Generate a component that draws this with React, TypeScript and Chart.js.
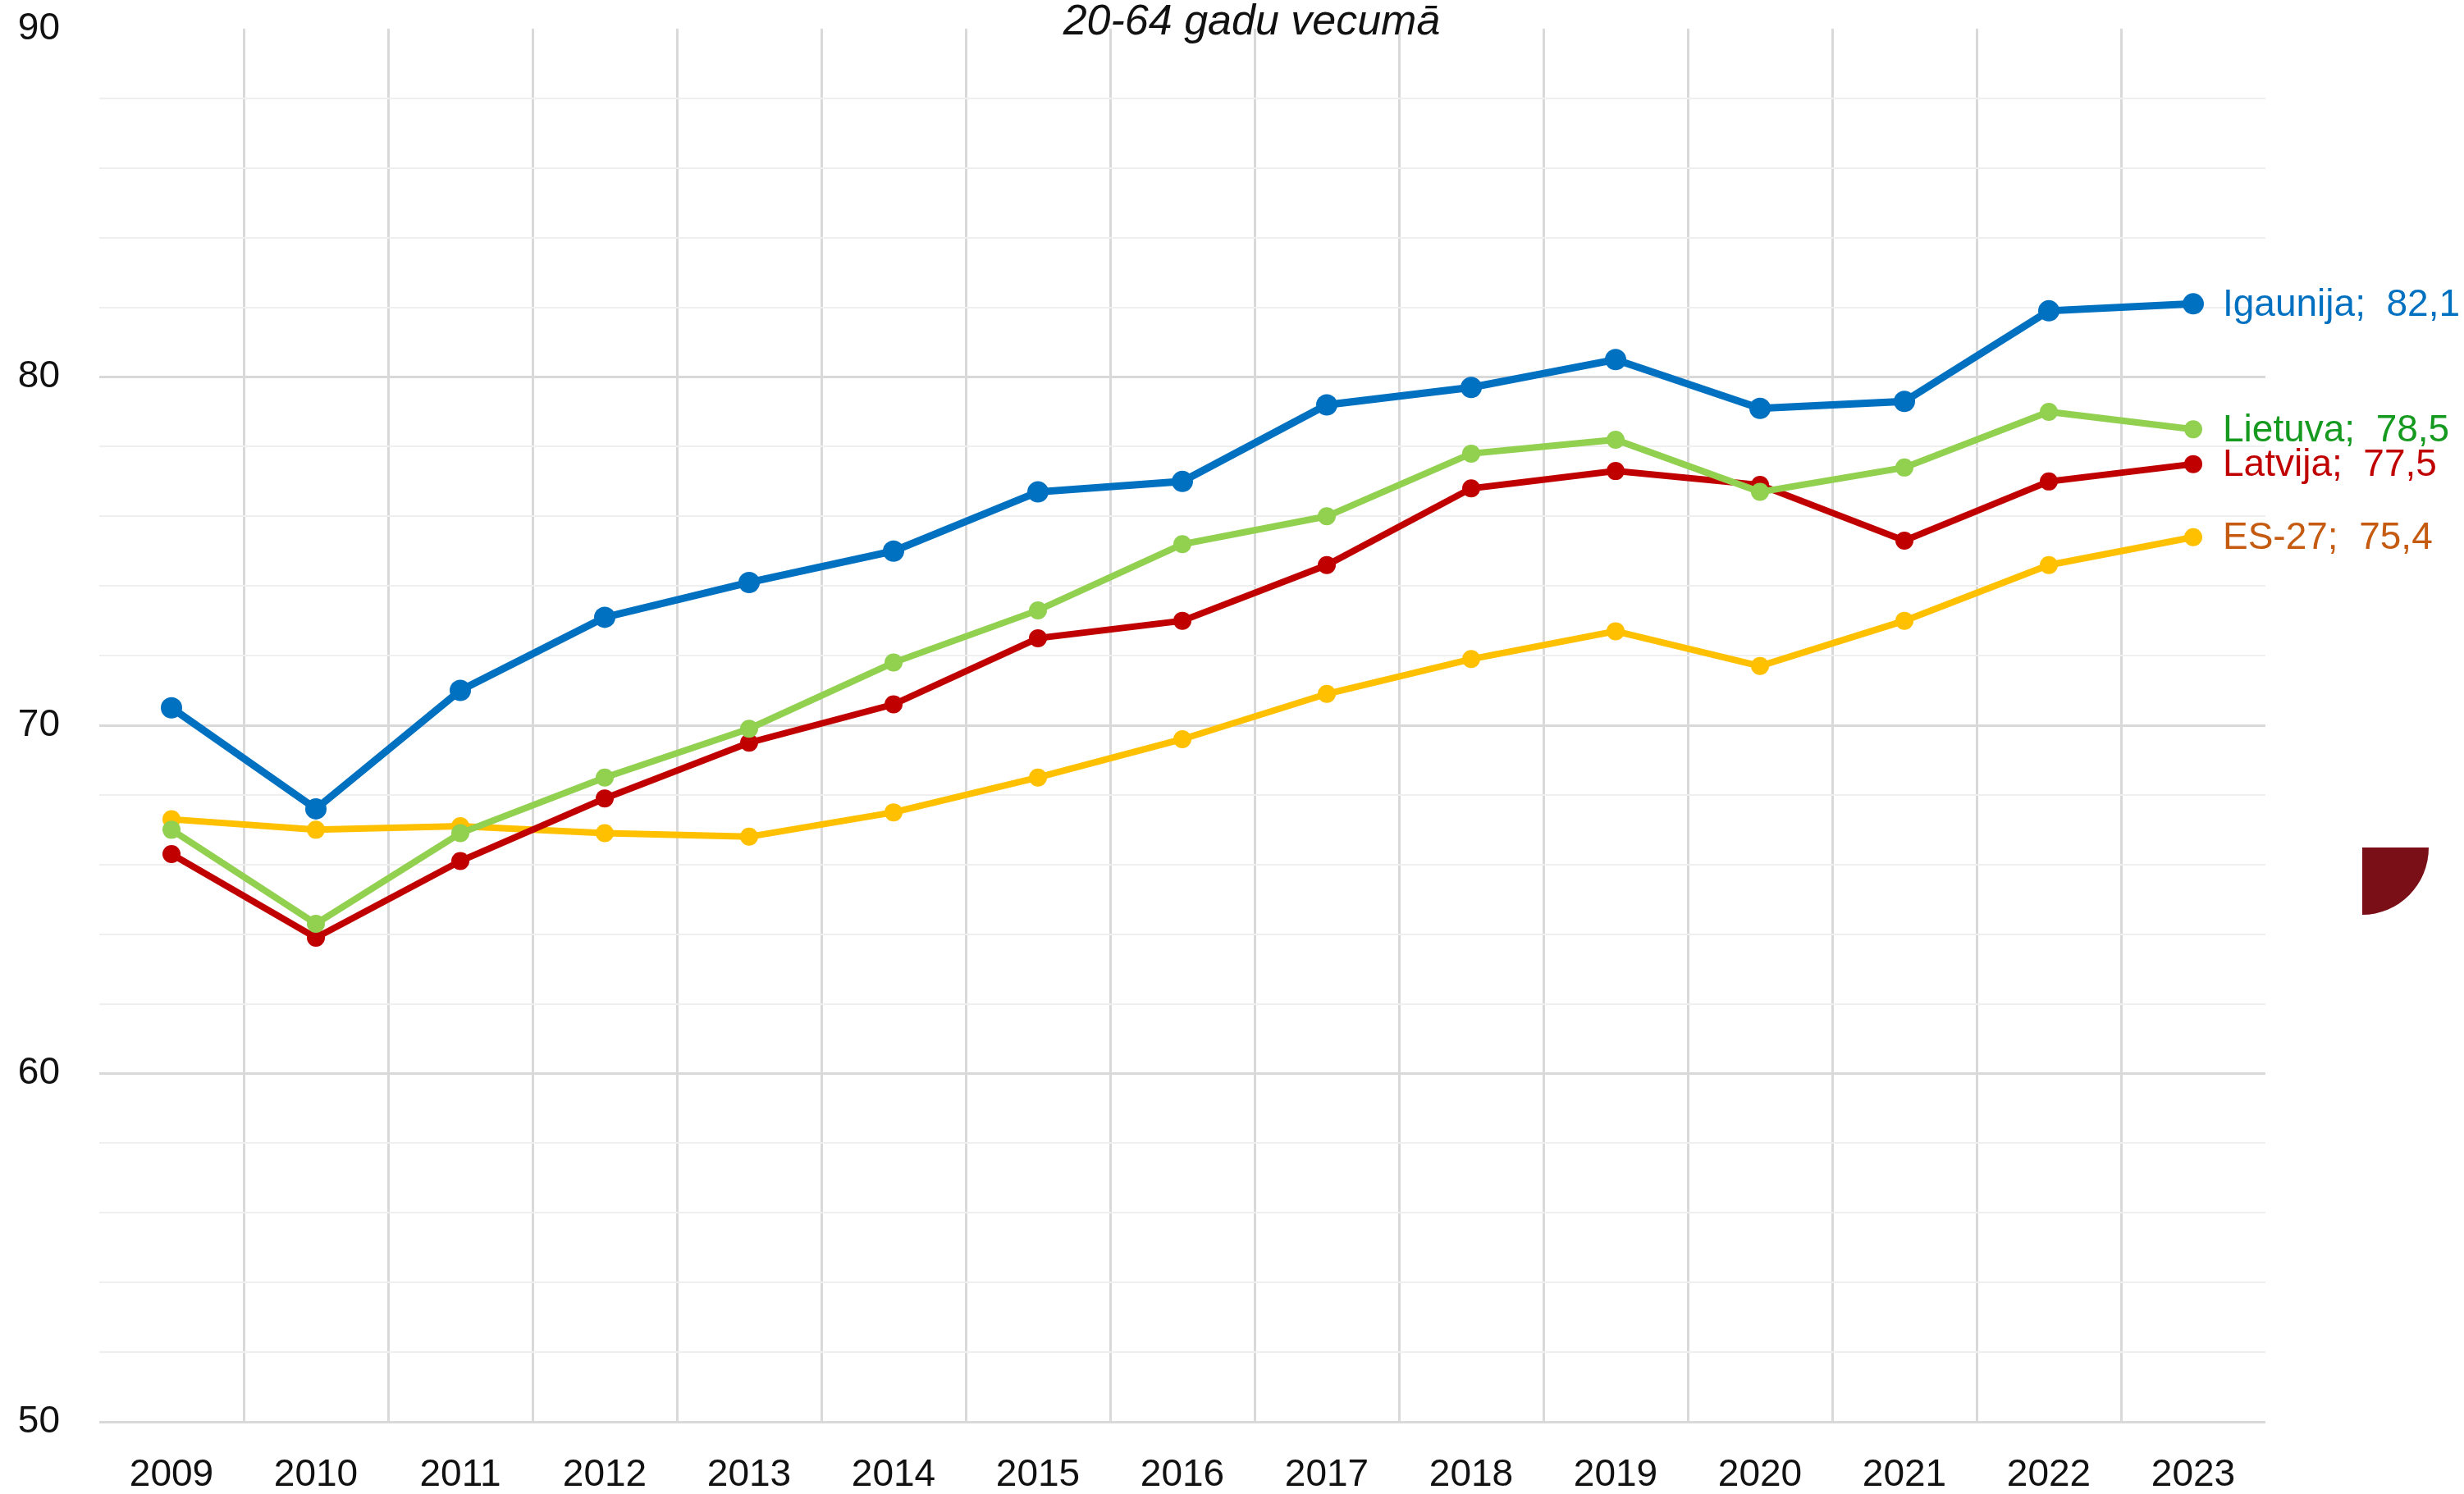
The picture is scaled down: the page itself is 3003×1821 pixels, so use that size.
import React, { useEffect, useRef } from "react";
import { Chart, registerables } from "chart.js";

Chart.register(...registerables);

const years = ["2009", "2010", "2011", "2012", "2013", "2014", "2015", "2016", "2017", "2018", "2019", "2020", "2021", "2022", "2023"];
const seriesNames = ["Igaunija", "Lietuva", "Latvija", "ES-27"];
const igaunija = [70.5, 67.6, 71.0, 73.1, 74.1, 75.0, 76.7, 77.0, 79.2, 79.7, 80.5, 79.1, 79.3, 81.9, 82.1];
const lietuva = [67.0, 64.3, 66.9, 68.5, 69.9, 71.8, 73.3, 75.2, 76.0, 77.8, 78.2, 76.7, 77.4, 79.0, 78.5];
const latvija = [66.3, 63.9, 66.1, 67.9, 69.5, 70.6, 72.5, 73.0, 74.6, 76.8, 77.3, 76.9, 75.3, 77.0, 77.5];
const es27 = [67.3, 67.0, 67.1, 66.9, 66.8, 67.5, 68.5, 69.6, 70.9, 71.9, 72.7, 71.7, 73.0, 74.6, 75.4];
const yMin = 50;
const yMax = 90;
const yStep = 2;
const yLabelStep = 10;
const titleText = "20-64 gadu vecumā";

const lineColors = ["#0070C0", "#92D050", "#C00000", "#FFC000"];
const labelColors = ["#0070C0", "#159A1F", "#C00000", "#C55A11"];
const FONT = "'Liberation Sans', Arial, sans-serif";
const TEXT = "#111111";

const W = 3003;
const H = 1821;

const endLabels = {
  id: "endLabels",
  afterDatasetsDraw(chart: any) {
    const ctx = chart.ctx;
    ctx.save();
    ctx.font = `46px ${FONT}`;
    ctx.textBaseline = "middle";
    ctx.textAlign = "left";
    chart.data.datasets.forEach((ds: any, i: number) => {
      const meta = chart.getDatasetMeta(i);
      const last = meta.data[meta.data.length - 1];
      const v = ds.data[ds.data.length - 1];
      ctx.fillStyle = labelColors[i];
      ctx.fillText(`${ds.label};  ${v.toFixed(1).replace(".", ",")}`, last.x + 36, last.y + 2);
    });
    ctx.restore();
  },
};

const titlePlugin = {
  id: "topTitle",
  afterDraw(chart: any) {
    const ctx = chart.ctx;
    ctx.save();
    ctx.font = `italic 52px ${FONT}`;
    ctx.fillStyle = TEXT;
    ctx.textAlign = "center";
    ctx.textBaseline = "middle";
    ctx.fillText(titleText, chart.width * 0.508, 28);
    ctx.restore();
  },
};

export default function App() {
  const ref = useRef<HTMLCanvasElement | null>(null);
  useEffect(() => {
    document.body.style.margin = "0";
    const canvas = ref.current!;
    const allData = [igaunija, lietuva, latvija, es27];
    const chart = new Chart(canvas, {
      type: "line",
      data: {
        labels: years,
        datasets: allData.map((d, i) => ({
          label: seriesNames[i],
          data: d,
          borderColor: lineColors[i],
          backgroundColor: lineColors[i],
          pointBackgroundColor: lineColors[i],
          pointBorderColor: lineColors[i],
          borderWidth: i === 0 ? 9 : 8,
          pointRadius: i === 0 ? 13 : 11,
          pointBorderWidth: 0,
          tension: 0,
          fill: false,
        })),
      },
      options: {
        responsive: false,
        animation: false,
        devicePixelRatio: 1,
        layout: { padding: { top: 35, right: 242, bottom: 0, left: 0 } },
        plugins: {
          legend: { display: false },
          tooltip: { enabled: false },
          title: { display: false },
        },
        scales: {
          x: {
            type: "category",
            offset: true,
            border: { display: false },
            grid: {
              offset: true,
              drawTicks: false,
              lineWidth: 3,
              color: (c: any) =>
                c.index === undefined || c.index === 0 || c.index >= years.length ? "rgba(0,0,0,0)" : "#D9D9D9",
            },
            ticks: {
              font: { family: FONT, size: 46 },
              color: TEXT,
              padding: 38,
              maxRotation: 0,
              autoSkip: false,
            },
            afterFit: (s: any) => {
              s.height = 88;
            },
          },
          y: {
            min: yMin,
            max: yMax,
            border: { display: false },
            grid: {
              drawTicks: false,
              color: (c: any) => {
                const v = c.tick ? c.tick.value : null;
                if (v === null || v === yMax) return "rgba(0,0,0,0)";
                return v % yLabelStep === 0 ? "#D9D9D9" : "#EFEFEF";
              },
              lineWidth: (c: any) => {
                const v = c.tick ? c.tick.value : 0;
                return v % yLabelStep === 0 ? 3 : 2;
              },
            },
            ticks: {
              stepSize: yStep,
              font: { family: FONT, size: 46 },
              color: TEXT,
              padding: 48,
              callback: (v: any) => (Number(v) % yLabelStep === 0 ? String(v) : ""),
            },
            afterFit: (s: any) => {
              s.width = 121;
              s.paddingTop = 0;
              s.paddingBottom = 0;
            },
          },
        },
      },
      plugins: [endLabels, titlePlugin],
    });
    return () => chart.destroy();
  }, []);

  return (
    <div style={{ position: "relative", width: W, height: H, background: "#fff" }}>
      <canvas ref={ref} width={W} height={H} style={{ display: "block", width: W, height: H }} />
      <div
        style={{
          position: "absolute",
          left: 2879,
          top: 1033,
          width: 81,
          height: 82,
          background: "#7A0F18",
          borderBottomRightRadius: "100%",
        }}
      />
    </div>
  );
}
